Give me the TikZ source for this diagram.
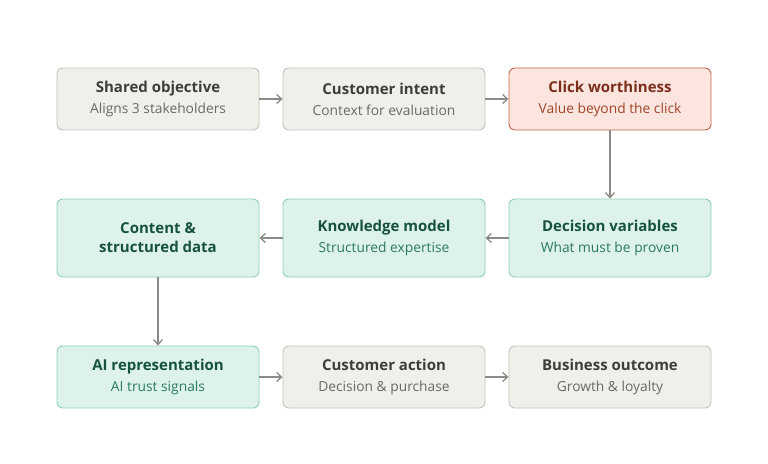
\documentclass[tikz,border=0pt]{standalone}
\usepackage{fontspec}
\setmainfont{Open Sans}
\usetikzlibrary{arrows.meta}
\definecolor{gfill}{HTML}{F0EFEB}\definecolor{gdraw}{HTML}{C4C2BC}
\definecolor{gtitle}{HTML}{3E3D39}\definecolor{gsub}{HTML}{6A6964}
\definecolor{rfill}{HTML}{FBE5DE}\definecolor{rdraw}{HTML}{C2664C}
\definecolor{rtitle}{HTML}{7A2F1C}\definecolor{rsub}{HTML}{A2452C}
\definecolor{tfill}{HTML}{DDF3EA}\definecolor{tdraw}{HTML}{8FCFB4}
\definecolor{ttitle}{HTML}{17523D}\definecolor{tsub}{HTML}{2C7A5B}
\definecolor{arr}{HTML}{8C8B87}
\tikzset{
 box/.style={draw, rounded corners=6pt, line width=0.9pt, minimum width=202pt, align=center, inner sep=0pt, font=\fontsize{15}{21}\selectfont},
 gbox/.style={box, fill=gfill, draw=gdraw, minimum height=62pt},
 rbox/.style={box, fill=rfill, draw=rdraw, minimum height=62pt},
 tbox/.style={box, fill=tfill, draw=tdraw, minimum height=78pt},
 tboxs/.style={box, fill=tfill, draw=tdraw, minimum height=62pt},
 ar/.style={draw=arr, line width=1.3pt, -{Straight Barb[length=5pt,width=9pt]}},
}
\newcommand{\ttl}[2]{{\bfseries\color{#1}#2}}
\newcommand{\stl}[2]{{\fontsize{13.8}{18}\selectfont\color{#1}#2}}
\begin{document}
\begin{tikzpicture}[x=1pt,y=-1pt]
\useasboundingbox (0,0) rectangle (768,463);
\node[gbox] (a) at (158,99) {\ttl{gtitle}{Shared objective}\\\stl{gsub}{Aligns 3 stakeholders}};
\node[gbox] (b) at (384,99) {\ttl{gtitle}{Customer intent}\\\stl{gsub}{Context for evaluation}};
\node[rbox] (c) at (610,99) {\ttl{rtitle}{Click worthiness}\\\stl{rsub}{Value beyond the click}};
\node[tbox] (d) at (610,238) {\ttl{ttitle}{Decision variables}\\\stl{tsub}{What must be proven}};
\node[tbox] (e) at (384,238) {\ttl{ttitle}{Knowledge model}\\\stl{tsub}{Structured expertise}};
\node[tbox] (f) at (158,238) {\ttl{ttitle}{Content \&}\\[-2pt]\ttl{ttitle}{structured data}};
\node[tboxs] (g) at (158,377) {\ttl{ttitle}{AI representation}\\\stl{tsub}{AI trust signals}};
\node[gbox] (h) at (384,377) {\ttl{gtitle}{Customer action}\\\stl{gsub}{Decision \& purchase}};
\node[gbox] (i) at (610,377) {\ttl{gtitle}{Business outcome}\\\stl{gsub}{Growth \& loyalty}};
\draw[ar] (a) -- (b); \draw[ar] (b) -- (c); \draw[ar] (c) -- (d);
\draw[ar] (d) -- (e); \draw[ar] (e) -- (f); \draw[ar] (f) -- (g);
\draw[ar] (g) -- (h); \draw[ar] (h) -- (i);
\end{tikzpicture}
\end{document}
